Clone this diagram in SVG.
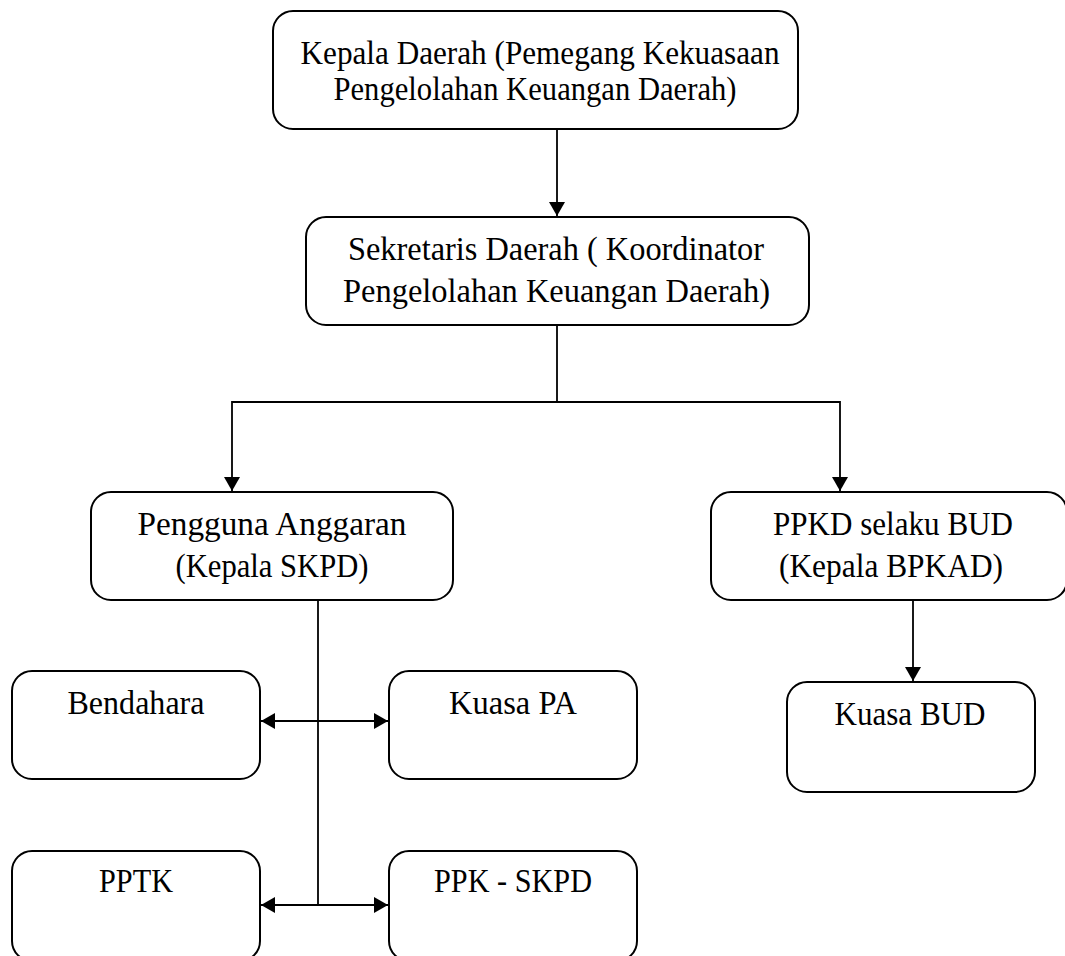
<svg xmlns="http://www.w3.org/2000/svg" width="1065" height="956" viewBox="0 0 1065 956">
<style>
.box{fill:#fff;stroke:#000;stroke-width:2}
.t{font-family:"Liberation Serif","Times New Roman",serif;font-size:33px;fill:#000;text-anchor:middle}
.ln{fill:none;stroke:#000;stroke-width:1.8}
</style>
<defs>
<marker id="ah" markerUnits="userSpaceOnUse" markerWidth="16" markerHeight="16" refX="14" refY="8" orient="auto-start-reverse" viewBox="0 0 16 16">
<path d="M0,0 L14,8 L0,16 Z" fill="#000"/>
</marker>
</defs>
<rect width="1065" height="956" fill="#fff"/>
<g id="connectors">
<line class="ln" x1="557" y1="129" x2="557" y2="216" marker-end="url(#ah)"/>
<polyline class="ln" points="557,325 557,402"/>
<polyline class="ln" points="232,491 232,402 840,402 840,491" marker-start="url(#ah)" marker-end="url(#ah)"/>
<line class="ln" x1="318" y1="600" x2="318" y2="905"/>
<line class="ln" x1="261" y1="721" x2="388" y2="721" marker-start="url(#ah)" marker-end="url(#ah)"/>
<line class="ln" x1="261" y1="905" x2="388" y2="905" marker-start="url(#ah)" marker-end="url(#ah)"/>
<line class="ln" x1="913" y1="600" x2="913" y2="681" marker-end="url(#ah)"/>
</g>
<g id="kepala-daerah">
<rect class="box" x="273" y="11" width="525" height="118" rx="20"/>
<text class="t" x="540" y="64" textLength="479" lengthAdjust="spacingAndGlyphs">Kepala Daerah (Pemegang Kekuasaan</text>
<text class="t" x="535" y="100" textLength="403" lengthAdjust="spacingAndGlyphs">Pengelolahan Keuangan Daerah)</text>
</g>
<g id="sekretaris-daerah">
<rect class="box" x="306" y="217" width="503" height="108" rx="20"/>
<text class="t" x="556" y="260" textLength="416" lengthAdjust="spacingAndGlyphs">Sekretaris Daerah ( Koordinator</text>
<text class="t" x="556.5" y="302" textLength="427" lengthAdjust="spacingAndGlyphs">Pengelolahan Keuangan Daerah)</text>
</g>
<g id="pengguna-anggaran">
<rect class="box" x="91" y="492" width="362" height="108" rx="20"/>
<text class="t" x="272" y="535" textLength="269" lengthAdjust="spacingAndGlyphs">Pengguna Anggaran</text>
<text class="t" x="272" y="577" textLength="193" lengthAdjust="spacingAndGlyphs">(Kepala SKPD)</text>
</g>
<g id="ppkd">
<rect class="box" x="711" y="492" width="356" height="108" rx="20"/>
<text class="t" x="893" y="535" textLength="240" lengthAdjust="spacingAndGlyphs">PPKD selaku BUD</text>
<text class="t" x="891" y="577" textLength="224" lengthAdjust="spacingAndGlyphs">(Kepala BPKAD)</text>
</g>
<g id="bendahara">
<rect class="box" x="12" y="671" width="248" height="108" rx="20"/>
<text class="t" x="136" y="714" textLength="137" lengthAdjust="spacingAndGlyphs">Bendahara</text>
</g>
<g id="kuasa-pa">
<rect class="box" x="389" y="671" width="248" height="108" rx="20"/>
<text class="t" x="513" y="714" textLength="128" lengthAdjust="spacingAndGlyphs">Kuasa PA</text>
</g>
<g id="kuasa-bud">
<rect class="box" x="787" y="682" width="248" height="110" rx="20"/>
<text class="t" x="910" y="725" textLength="151" lengthAdjust="spacingAndGlyphs">Kuasa BUD</text>
</g>
<g id="pptk">
<rect class="box" x="12" y="851" width="248" height="110" rx="20"/>
<text class="t" x="136" y="892" textLength="74" lengthAdjust="spacingAndGlyphs">PPTK</text>
</g>
<g id="ppk-skpd">
<rect class="box" x="389" y="851" width="248" height="110" rx="20"/>
<text class="t" x="513" y="892" textLength="158" lengthAdjust="spacingAndGlyphs">PPK - SKPD</text>
</g>
</svg>
